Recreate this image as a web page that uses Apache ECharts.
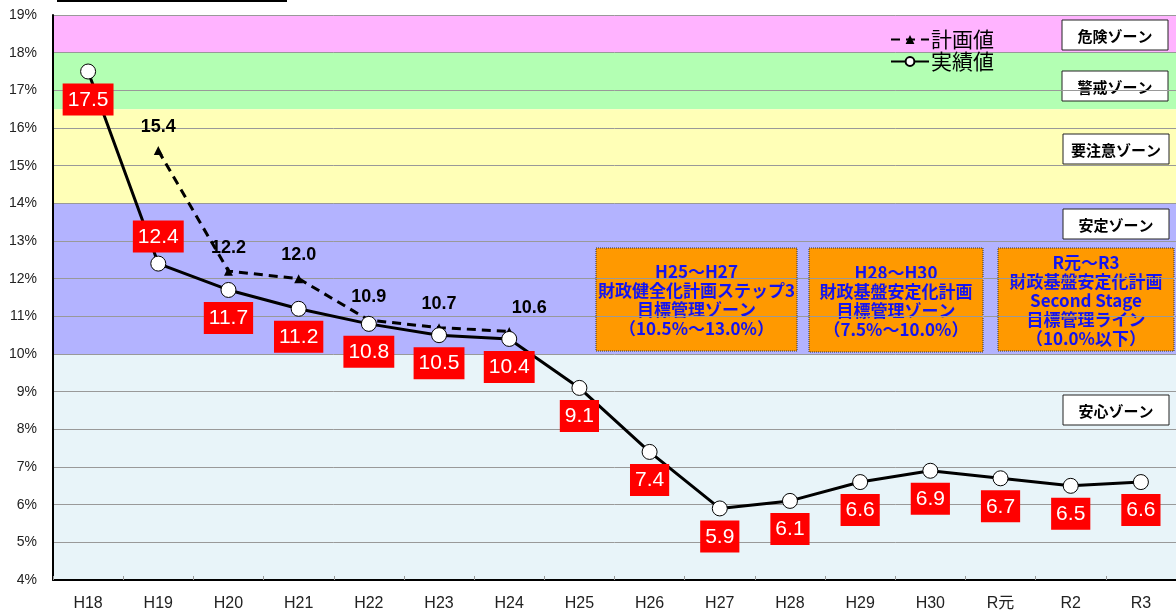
<!DOCTYPE html>
<html>
<head>
<meta charset="utf-8">
<script src="https://cdn.jsdelivr.net/npm/echarts@6/dist/echarts.min.js"></script>
<style>
    html, body { margin: 0; padding: 0; background: #fff; }
    #main { width: 1176px; height: 614px; }
</style>
</head>
<body>
<div id="main"></div>
<script>
// データ
var categories = ['H18', 'H19', 'H20', 'H21', 'H22', 'H23', 'H24', 'H25', 'H26', 'H27', 'H28', 'H29', 'H30', 'R元', 'R2', 'R3'];
var actualValues = [17.5, 12.4, 11.7, 11.2, 10.8, 10.5, 10.4, 9.1, 7.4, 5.9, 6.1, 6.6, 6.9, 6.7, 6.5, 6.6];
var planValues = [null, 15.4, 12.2, 12.0, 10.9, 10.7, 10.6, null, null, null, null, null, null, null, null, null];
var yMin = 4, yMax = 19, yStep = 1;

// ゾーン
var zoneNames = ['危険ゾーン', '警戒ゾーン', '要注意ゾーン', '安定ゾーン', '安心ゾーン'];
var zoneFrom = [18, 16.5, 14, 10, 4];
var zoneTo = [19, 18, 16.5, 14, 10];

// 目標管理ボックス
var planBoxTexts = [
    ['H25～H27', '財政健全化計画ステップ3', '目標管理ゾーン', '（10.5%～13.0%）'],
    ['H28～H30', '財政基盤安定化計画', '目標管理ゾーン', '（7.5%～10.0%）'],
    ['R元～R3', '財政基盤安定化計画', 'Second Stage', '目標管理ライン', '（10.0%以下）']
];

(function () {
    var zoneColors = ['#ffb3ff', '#b3ffb3', '#ffffb7', '#b3b3ff', '#e8f4f9'];
    var zoneBoxPos = [[1062, 20], [1062, 71], [1063, 134], [1063, 209], [1063, 395]];
    var planBoxPos = [[596, 248, 201, 103], [809, 248, 174, 104], [998, 248, 176, 103]];
    var labelAbove = [1];     // 実績値ラベルを上に出す位置
    var planLabelShift = { 6: [20, 0] };
    var baseFont = '"Liberation Sans", "Noto Sans CJK JP", sans-serif';
    var jpFont = '"Noto Sans CJK JP", sans-serif';

    var areas = [];
    for (var i = 0; i < zoneNames.length; i++) {
        areas.push([
            { yAxis: zoneFrom[i], itemStyle: { color: zoneColors[i] } },
            { yAxis: zoneTo[i] }
        ]);
    }

    var actualData = actualValues.map(function (v, i) {
        var item = { value: v };
        if (labelAbove.indexOf(i) >= 0) {
            item.label = { position: 'top', distance: 3 };
        }
        return item;
    });
    var planData = planValues.map(function (v, i) {
        var item = { value: v };
        if (planLabelShift[i]) {
            item.label = { offset: planLabelShift[i] };
        }
        return item;
    });

    function textBox(x, y, w, h, lines, fill, stroke, dash, color, size, lh) {
        return {
            type: 'group',
            x: x,
            y: y,
            children: [
                {
                    type: 'rect',
                    shape: { x: 0, y: 0, width: w, height: h },
                    style: { fill: fill, stroke: stroke, lineWidth: 1, lineDash: dash }
                },
                {
                    type: 'text',
                    x: w / 2,
                    y: h / 2 + 1,
                    style: {
                        text: lines.join('\n'),
                        fill: color,
                        font: 'bold ' + size + 'px ' + jpFont,
                        lineHeight: lh,
                        align: 'center',
                        verticalAlign: 'middle',
                        textAlign: 'center',
                        textVerticalAlign: 'middle'
                    }
                }
            ]
        };
    }

    var graphics = [
        { type: 'line', shape: { x1: 57, y1: 1, x2: 287, y2: 1 }, style: { stroke: '#000', lineWidth: 2 } }
    ];
    for (var j = 0; j < zoneNames.length; j++) {
        graphics.push(textBox(zoneBoxPos[j][0], zoneBoxPos[j][1], 106, 30, [zoneNames[j]],
            '#fff', '#222', null, '#000', 15, 18));
    }
    for (var k = 0; k < planBoxTexts.length; k++) {
        var p = planBoxPos[k];
        graphics.push(textBox(p[0], p[1], p[2], p[3], planBoxTexts[k],
            '#ff9900', '#333', [1, 1], '#1414f0', 17, 19));
    }

    var myChart = echarts.init(document.getElementById('main'));
    var option = {
        animation: false,
        backgroundColor: '#fff',
        grid: { left: 53, right: 0, top: 15, bottom: 34, containLabel: false },
        legend: {
            orient: 'vertical',
            left: 890,
            top: 29,
            itemGap: 1,
            itemWidth: 38,
            itemHeight: 11,
            padding: 0,
            textStyle: { fontSize: 21, color: '#000', fontFamily: jpFont, padding: [0, 0, 0, -3] },
            data: ['計画値', '実績値']
        },
        xAxis: {
            type: 'category',
            data: categories,
            boundaryGap: true,
            axisLine: { lineStyle: { color: '#000', width: 2 } },
            axisTick: { show: true, inside: true, length: 4, lineStyle: { color: '#999' } },
            axisLabel: { fontSize: 16, color: '#222', margin: 16, fontFamily: baseFont }
        },
        yAxis: {
            type: 'value',
            min: yMin,
            max: yMax,
            interval: yStep,
            axisLine: { show: true, lineStyle: { color: '#000', width: 2 } },
            axisTick: { show: false },
            axisLabel: { fontSize: 14, color: '#222', margin: 16, formatter: '{value}%', fontFamily: baseFont },
            splitLine: { show: true, lineStyle: { color: '#999', width: 1 } }
        },
        series: [
            {
                name: '計画値',
                type: 'line',
                z: 3,
                data: planData,
                symbol: 'triangle',
                symbolSize: 9,
                itemStyle: { color: '#000' },
                lineStyle: { color: '#000', width: 3, type: [9, 6] },
                label: {
                    show: true,
                    position: 'top',
                    distance: 10,
                    fontSize: 18,
                    fontWeight: 'bold',
                    color: '#000',
                    fontFamily: baseFont,
                    formatter: function (p) { return p.value.toFixed(1); }
                },
                markArea: {
                    silent: true,
                    z: -1,
                    data: areas
                }
            },
            {
                name: '実績値',
                type: 'line',
                z: 4,
                data: actualData,
                symbol: 'circle',
                symbolSize: 15,
                itemStyle: { color: '#fff', borderColor: '#000', borderWidth: 1 },
                lineStyle: { color: '#000', width: 3 },
                label: {
                    show: true,
                    position: 'bottom',
                    distance: 4,
                    fontSize: 21,
                    color: '#fff',
                    backgroundColor: '#ff0000',
                    padding: [6, 5, 5, 5],
                    fontFamily: baseFont,
                    formatter: function (p) { return p.value.toFixed(1); }
                }
            }
        ],
        graphic: graphics
    };
    myChart.setOption(option);
})();
</script>
</body>
</html>
